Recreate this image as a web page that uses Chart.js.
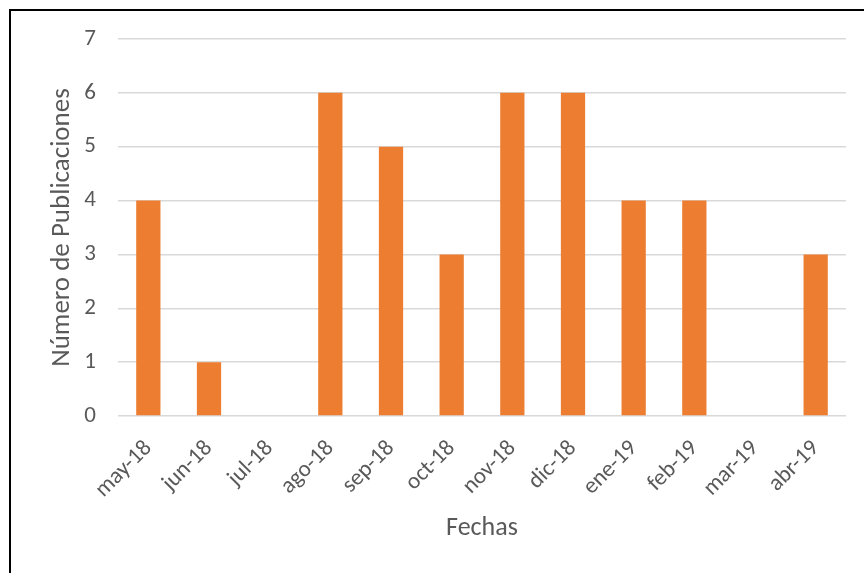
<!DOCTYPE html>
<html lang="es">
  <head>
    <meta charset="UTF-8" />
    <title>Publicaciones por mes</title>
    <script src="https://cdn.jsdelivr.net/npm/chart.js@4.4.1/dist/chart.umd.min.js"></script>
    <style>
      body {
        margin: 0;
        background: #fff;
      }
      #frame {
        position: absolute;
        left: 9px;
        top: 9px;
        width: 860px;
        height: 570px;
        border-left: 2px solid #000;
        border-top: 2px solid #000;
      }
      #wrap {
        position: absolute;
        left: 0;
        top: 0;
        width: 864px;
        height: 573px;
      }
    </style>
  </head>
  <body>
    <div id="frame"></div>
    <div id="wrap"><canvas id="chart"></canvas></div>

    <script>
      const meses = [
        "may-18", "jun-18", "jul-18", "ago-18", "sep-18", "oct-18",
        "nov-18", "dic-18", "ene-19", "feb-19", "mar-19", "abr-19",
      ];
      const publicaciones = [4, 1, 0, 6, 5, 3, 6, 6, 4, 4, 0, 3];
      const yTicks = [0, 1, 2, 3, 4, 5, 6, 7];

      const fontFamily = "Carlito, Calibri, Lato, sans-serif";
      const gris = "#595959";

      const ctx = document.getElementById("chart").getContext("2d");
      new Chart(ctx, {
        type: "bar",
        data: {
          labels: meses,
          datasets: [
            {
              label: "Número de Publicaciones",
              data: publicaciones,
              backgroundColor: "#ED7D31",
              barPercentage: 0.4,
              categoryPercentage: 1,
            },
          ],
        },
        options: {
          responsive: true,
          maintainAspectRatio: false,
          animation: false,
          layout: { padding: { top: 39, right: 18, left: 0, bottom: 0 } },
          plugins: { legend: { display: false }, tooltip: { enabled: false } },
          scales: {
            x: {
              grid: { display: false },
              border: { display: false },
              ticks: {
                color: gris,
                font: { family: fontFamily, size: 23 },
                minRotation: 45,
                maxRotation: 45,
                padding: 11,
              },
              title: {
                display: true,
                text: "Fechas",
                color: gris,
                font: { family: fontFamily, size: 26 },
                padding: { top: 0, bottom: 29 },
              },
              afterFit: (scale) => {
                scale.height = 157;
              },
            },
            y: {
              min: 0,
              max: 7,
              afterBuildTicks: (scale) => {
                scale.ticks = yTicks.map((v) => ({ value: v }));
              },
              grid: { color: "#D9D9D9", lineWidth: 1.5, drawTicks: false },
              border: { display: false },
              ticks: {
                color: gris,
                font: { family: fontFamily, size: 23 },
                padding: 22,
              },
              title: {
                display: true,
                text: "Número de Publicaciones",
                color: gris,
                font: { family: fontFamily, size: 27 },
                padding: { top: 46, bottom: 0 },
              },
              afterFit: (scale) => {
                scale.width = 118;
              },
            },
          },
        },
      });
    </script>
  </body>
</html>
